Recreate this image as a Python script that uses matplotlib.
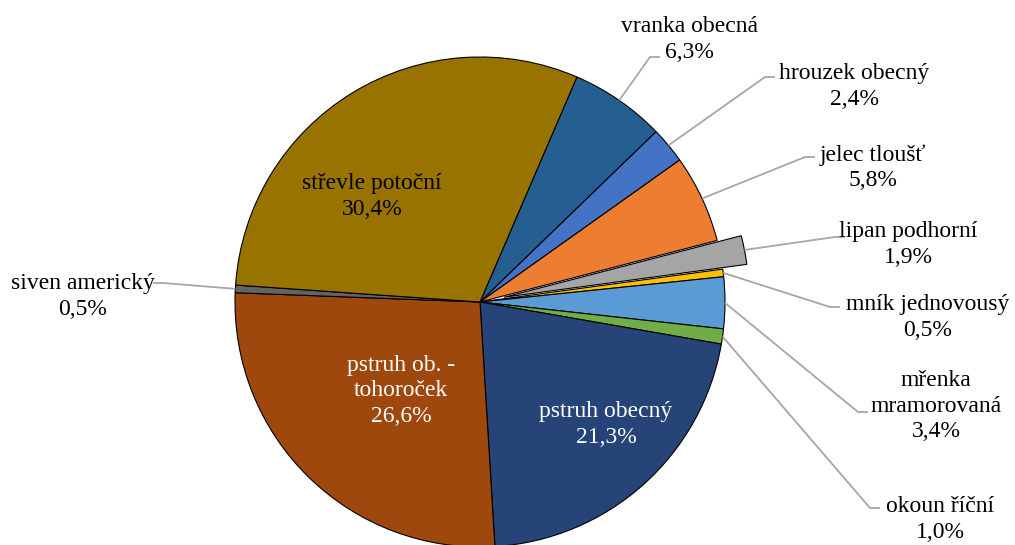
import numpy as np
import matplotlib.pyplot as plt

plt.rcParams['font.family'] = ['Liberation Serif', 'DejaVu Serif']

# podíl druhů ryb (%)
druhy = ['vranka obecná', 'hrouzek obecný', 'jelec tloušť', 'lipan podhorní',
         'mník jednovousý', 'mřenka\nmramorovaná', 'okoun říční', 'pstruh obecný',
         'pstruh ob. -\ntohoroček', 'siven americký', 'střevle potoční']
podil = [6.3, 2.4, 5.8, 1.9, 0.5, 3.4, 1.0, 21.3, 26.6, 0.5, 30.4]
barvy = ['#255E91', '#4472C4', '#ED7D31', '#A5A5A5', '#FFC000', '#5B9BD5',
         '#70AD47', '#264478', '#9E480E', '#636363', '#997300']
vysunuti = [0, 0, 0, 0.1, 0, 0, 0, 0, 0, 0, 0]

W, H = 1015, 545
CX, CY, R = 480, 302, 245


def px(x, y):
    # pixel -> souradnice kolacku (polomer 1)
    return (x - CX) / R, (CY - y) / R


fig = plt.figure(figsize=(W / 100, H / 100), dpi=100)
ax = fig.add_axes([0, 0, 1, 1])
wedges, _ = ax.pie(podil, colors=barvy, explode=vysunuti, startangle=66.7,
                   counterclock=False,
                   wedgeprops=dict(edgecolor='black', linewidth=0.8))
ax.set_xlim(-CX / R, (W - CX) / R)
ax.set_ylim(-(H - CY) / R, CY / R)
ax.set_aspect('equal')
ax.axis('off')

# rozlozeni popisku: (stred textu x, y prvniho radku, koleno vodici cary, smer)
vnejsi = {
    0: (689, 25, (650, 57), 1),
    1: (854, 72, (765, 77), 1),
    2: (873, 153, (805, 157), 1),
    3: (908, 230, (835, 237), 1),
    4: (928, 303, (830, 307), 1),
    5: (936, 378, (858, 412), 1),
    6: (940, 505, (870, 508), 1),
    9: (83, 282, (163, 283), -1),
}
vnitrni = {
    7: (606, 410, 'white'),
    8: (401, 363, 'white'),
    10: (372, 182, 'black'),
}

fs = 17
lh = 27
for i, w in enumerate(wedges):
    txt = druhy[i] + '\n' + f'{podil[i]:.1f}%'.replace('.', ',')
    n = txt.count('\n') + 1
    if i in vnejsi:
        tx, ty, (kx, ky), d = vnejsi[i]
        c = 'black'
        tm = np.deg2rad((w.theta1 + w.theta2) / 2)
        x0 = w.center[0] + w.r * np.cos(tm)
        y0 = w.center[1] + w.r * np.sin(tm)
        k = px(kx, ky)
        k2 = px(kx + 10 * d, ky)
        ax.plot([x0, k[0], k2[0]], [y0, k[1], k2[1]], color='#A6A6A6', lw=1.3,
                solid_capstyle='butt')
    else:
        tx, ty, c = vnitrni[i]
    x, y = px(tx, ty + (n - 1) * lh / 2 + 1)
    ax.text(x, y, txt, ha='center', va='center', fontsize=fs, color=c,
            linespacing=1.26)

fig.savefig('out.png', dpi=100)
